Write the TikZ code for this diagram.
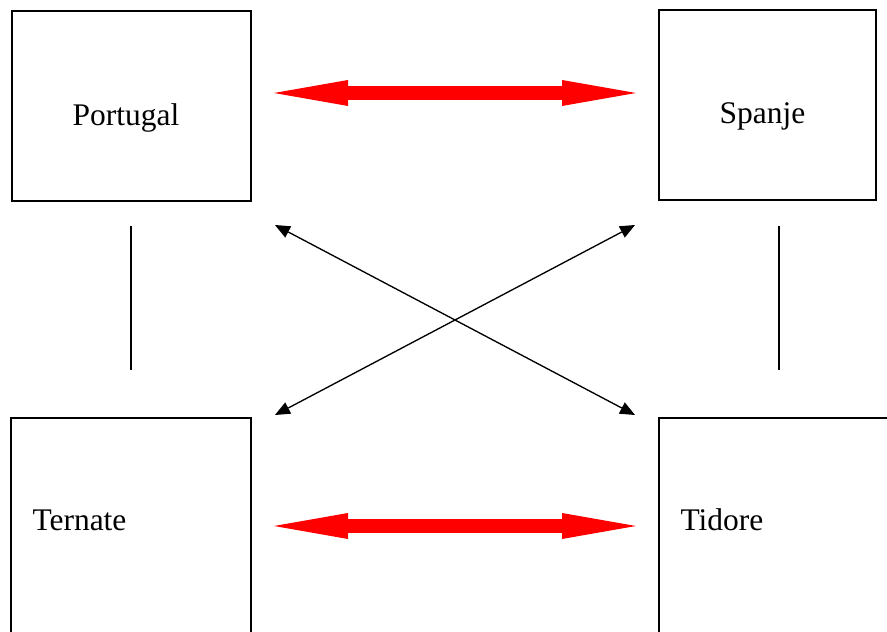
\documentclass[tikz,border=0pt]{standalone}
\usepackage{fontspec}
\setmainfont{Liberation Serif}
\usetikzlibrary{arrows.meta}
\begin{document}
\begin{tikzpicture}[x=0.375pt,y=-0.375pt,
  land/.style={draw,line width=0.45pt,inner sep=0pt},
  naam/.style={font=\fontsize{11.8}{14}\selectfont,inner sep=0pt},
  rood/.style={red,line width=5.25pt,{Triangle[length=27.75pt,width=9.75pt,line width=0pt]}-{Triangle[length=27.75pt,width=9.75pt,line width=0pt]}},
  pijl/.style={line width=0.5pt,{Triangle[length=5.6pt,width=4.8pt,line width=0pt]}-{Triangle[length=5.6pt,width=4.8pt,line width=0pt]}}]

\def\u{0.375pt}

\useasboundingbox (0,0) rectangle (887,632);
\clip (0,0) rectangle (887,632);

\node[land,minimum width=239*\u,minimum height=190*\u] (portugal) at (131.5,106) {};
\node[land,minimum width=217*\u,minimum height=190*\u] (spanje) at (767.5,105) {};
\node[land,minimum width=240*\u,minimum height=242*\u] (ternate) at (131,539) {};
\node[land,minimum width=261*\u,minimum height=242*\u] (tidore) at (789.5,539) {};

\node[naam,anchor=base] (tportugal) at (126,126) {Portugal};
\node[naam,anchor=base] (tspanje) at (762.5,124) {Spanje};
\node[naam,anchor=base west] (tternate) at (32,531) {Ternate};
\node[naam,anchor=base west] (ttidore) at (680,531) {Tidore};

\coordinate (r1) at (274,93);
\coordinate (r2) at (636,93);
\coordinate (r3) at (274,526);
\coordinate (r4) at (636,526);

\coordinate (k1) at (275,225);
\coordinate (k2) at (635,415);
\coordinate (k3) at (635,225);
\coordinate (k4) at (275,415);

\coordinate (l1) at (131,226);
\coordinate (l2) at (131,370);
\coordinate (l3) at (779,226);
\coordinate (l4) at (779,370);

\draw[rood] (r1) -- (r2);
\draw[rood] (r3) -- (r4);

\draw[pijl] (k1) -- (k2);
\draw[pijl] (k3) -- (k4);

\draw[line width=0.5pt] (l1) -- (l2);
\draw[line width=0.5pt] (l3) -- (l4);
\end{tikzpicture}
\end{document}
